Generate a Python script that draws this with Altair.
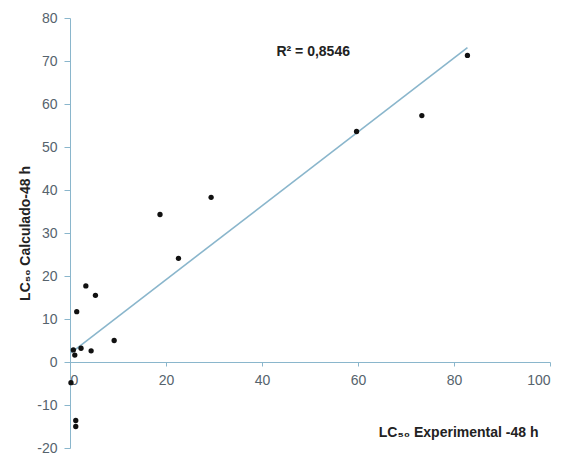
import altair as alt
import pandas as pd

# LC50 experimental (x) vs calculated (y), 48 h
exp_48h = [82.8, 73.3, 59.7, 29.4, 18.75, 22.6, 3.3, 5.3, 1.4, 9.2, 2.3, 4.4, 0.7, 1.0, 0.2, 1.2, 1.2]
calc_48h = [71.3, 57.3, 53.6, 38.3, 34.3, 24.1, 17.7, 15.5, 11.7, 5.0, 3.2, 2.6, 2.8, 1.6, -4.8, -13.6, -15.0]

x_ticks = [0, 20, 40, 60, 80, 100]
y_ticks = [-20, -10, 0, 10, 20, 30, 40, 50, 60, 70, 80]

r2_label = ["R² = 0,8546"]
r2_x = [43.0]
r2_y = [72.2]

df = pd.DataFrame({"exp": exp_48h, "calc": calc_48h})
ann = pd.DataFrame({"label": r2_label, "x": r2_x, "y": r2_y})

FONT = "Liberation Sans"
AXIS_COLOR = "#8ab6cc"
LABEL_COLOR = "#56636d"

xscale = alt.Scale(domain=[0, 100], nice=False, zero=False)
yscale = alt.Scale(domain=[-20, 80], nice=False, zero=False)

x_enc = alt.X(
    "exp:Q",
    scale=xscale,
    axis=alt.Axis(
        values=x_ticks,
        offset=-86,
        grid=False,
        domainColor=AXIS_COLOR,
        tickColor=AXIS_COLOR,
        tickSize=4,
        labelColor=LABEL_COLOR,
        labelFont=FONT,
        labelFontSize=14,
        labelPadding=7,
        labelExpr="'' + datum.value",
        title="LC₅₀  Experimental -48 h",
        titleFont=FONT,
        titleFontSize=14,
        titleFontWeight="bold",
        titleColor="#222222",
        titleX=468,
        titleY=70,
        titleAlign="right",
        titleBaseline="middle",
        titleAnchor="end",
    ),
)
y_enc = alt.Y(
    "calc:Q",
    scale=yscale,
    axis=alt.Axis(
        values=y_ticks,
        grid=False,
        domainColor=AXIS_COLOR,
        tickColor=AXIS_COLOR,
        tickSize=6,
        labelColor=LABEL_COLOR,
        labelFont=FONT,
        labelFontSize=14,
        labelPadding=7,
        labelExpr="'' + datum.value",
        title="LC₅₀  Calculado-48 h",
        titleFont=FONT,
        titleFontSize=14,
        titleFontWeight="bold",
        titleColor="#222222",
        titleX=-45,
        titleY=215,
        titleAngle=-90,
        titleAlign="center",
        titleBaseline="middle",
    ),
)

base = alt.Chart(df)

fit = base.mark_line(color=AXIS_COLOR, strokeWidth=1.6).transform_regression(
    "exp", "calc"
).encode(x=alt.X("exp:Q", scale=xscale), y=alt.Y("calc:Q", scale=yscale))

points = base.mark_circle(size=28, color="#111111", opacity=1).encode(x=x_enc, y=y_enc)

text = alt.Chart(ann).mark_text(
    font=FONT, fontSize=14, fontWeight="bold", align="left", baseline="middle", color="#222222"
).encode(
    x=alt.X("x:Q", scale=xscale),
    y=alt.Y("y:Q", scale=yscale),
    text="label:N",
)

chart = (
    alt.layer(fit, points, text)
    .properties(
        width=480,
        height=430,
        autosize=alt.AutoSizeParams(type="none"),
        padding={"left": 70, "top": 18, "right": 16, "bottom": 6},
        background="white",
    )
    .configure_view(stroke=None)
)

chart.save("out.html", embed_options={"renderer": "svg", "actions": False})
